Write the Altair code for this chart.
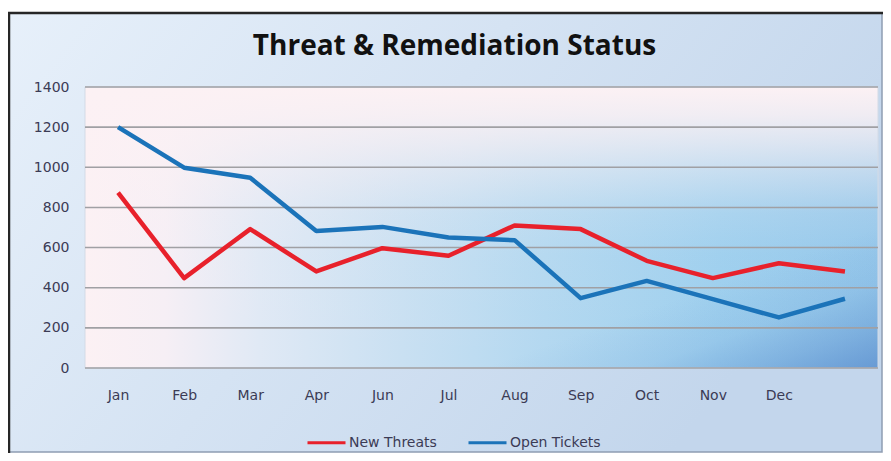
import altair as alt
import pandas as pd

# ---- data ----
months = ["Jan", "Feb", "Mar", "Apr", "Jun", "Jul", "Aug", "Sep", "Oct", "Nov", "Dec", ""]
new_threats = [874, 448, 692, 481, 597, 559, 710, 692, 534, 448, 522, 481]
open_tickets = [1200, 998, 948, 683, 703, 650, 637, 348, 434, 343, 252, 345]
series_names = ["New Threats", "Open Tickets"]
series_colors = ["#e8212b", "#1b73b9"]
y_ticks = [0, 200, 400, 600, 800, 1000, 1200, 1400]
title_text = "Threat & Remediation Status"

W, H = 793, 281
LABEL_FONT = "DejaVu Sans"
LABEL_COLOR = "#3b3b55"

df = pd.DataFrame({
    "Month": months * 2,
    "Series": [series_names[0]] * len(months) + [series_names[1]] * len(months),
    "Value": new_threats + open_tickets,
    "order": list(range(len(months))) * 2,
})
grid_df = pd.DataFrame({"Value": y_ticks})
one = pd.DataFrame({"a": [0]})

y_scale = alt.Scale(domain=[0, 1400], nice=False, zero=True)
y_axis = alt.Axis(values=y_ticks, format="d", title=None, ticks=False, domain=False, grid=False,
                  labelPadding=16, labelFontSize=14, labelFont=LABEL_FONT,
                  labelColor=LABEL_COLOR, zindex=1)


def stops(pairs):
    return [alt.GradientStop(color=c, offset=o) for o, c in pairs]


frame = alt.Chart(one).mark_rect(
    fill=alt.LinearGradient(gradient="linear",
                            stops=stops([(0, "#e7f0fa"), (1, "#c3d6ec")]),
                            x1=0, y1=0, x2=1, y2=0.4),
    stroke="#8f9db2", strokeWidth=1.5,
).encode(x=alt.value(-76), x2=alt.value(W + 4), y=alt.value(-74), y2=alt.value(H + 84))

border_top = alt.Chart(one).mark_rule(color="#262626", strokeWidth=2.5).encode(
    x=alt.value(-77), x2=alt.value(W + 5), y=alt.value(-74))
border_left = alt.Chart(one).mark_rule(color="#262626", strokeWidth=2.5).encode(
    x=alt.value(-76), y=alt.value(-75), y2=alt.value(H + 85))

# plot-area background: horizontal blue ramp, pink fade towards the top,
# darker tint in the bottom-right corner
plot_pos = dict(x=alt.value(0), x2=alt.value(W), y=alt.value(0), y2=alt.value(H))

plotbg = alt.Chart(one).mark_rect(
    fill=alt.LinearGradient(gradient="linear", stops=stops([
        (0, "#92c6ea"), (0.2, "#9dcfee"), (0.42, "#b3d8f0"), (0.6, "#c9e0f2"),
        (0.78, "#e0e9f5"), (0.9, "#f6eff5"), (1, "#fcf1f4")]),
        x1=1, y1=0, x2=0, y2=0),
).encode(**plot_pos)

plotfade = alt.Chart(one).mark_rect(
    fill=alt.LinearGradient(gradient="linear", stops=stops([
        (0, "rgba(252,241,244,0)"), (0.4, "rgba(252,241,244,0.04)"),
        (0.55, "rgba(252,241,244,0.15)"), (0.7, "rgba(252,241,244,0.45)"),
        (0.8, "rgba(252,241,244,0.68)"), (0.9, "rgba(252,241,244,0.88)"),
        (1, "rgba(252,241,244,1)")]),
        x1=0, y1=1, x2=0, y2=0),
).encode(**plot_pos)

plotcorner = alt.Chart(one).mark_rect(
    fill=alt.LinearGradient(gradient="linear", stops=stops([
        (0, "rgba(90,140,205,0.75)"), (0.3, "rgba(90,140,205,0.4)"),
        (0.6, "rgba(90,140,205,0.12)"), (1, "rgba(90,140,205,0)")]),
        x1=1, y1=1, x2=0.75, y2=0.75),
    stroke="#d3dbe6", strokeWidth=1,
).encode(**plot_pos)

grid = alt.Chart(grid_df).mark_rule(color="#a0a0a4", strokeWidth=1.6).encode(
    y=alt.Y("Value:Q", scale=y_scale, axis=y_axis)
)

lines = alt.Chart(df).mark_line(strokeWidth=4.5, strokeJoin="round").encode(
    x=alt.X("Month:N", sort=months,
            scale=alt.Scale(type="point", padding=0.5),
            axis=alt.Axis(title=None, labelAngle=0, ticks=False, domain=False, grid=False,
                          labelPadding=20, labelFontSize=14, labelFont=LABEL_FONT,
                          labelColor=LABEL_COLOR, zindex=1)),
    y=alt.Y("Value:Q", scale=y_scale, axis=y_axis),
    color=alt.Color("Series:N",
                    scale=alt.Scale(domain=series_names, range=series_colors),
                    legend=alt.Legend(title=None, orient="none", legendX=221, legendY=335,
                                      direction="horizontal", symbolType="stroke",
                                      symbolSize=1444, symbolStrokeWidth=3,
                                      labelFontSize=14, labelFont=LABEL_FONT,
                                      labelColor=LABEL_COLOR, labelOffset=2,
                                      columnPadding=25, padding=0, zindex=1)),
    order=alt.Order("order:Q"),
)

chart = alt.layer(frame, border_top, border_left, plotbg, plotfade, plotcorner,
                  grid, lines).properties(
    width=W, height=H,
    padding={"left": 77, "top": 79, "right": 5, "bottom": 85},
    autosize=alt.AutoSizeParams(type="none"),
    background="white",
    title=alt.TitleParams(title_text, font="Open Sans", fontSize=28, fontWeight="bold",
                          color="#111111", anchor="middle", frame="group",
                          dx=-27, offset=-50, zindex=1),
).configure_view(stroke=None)

chart.save("out.html", embed_options={"renderer": "svg", "actions": False})
